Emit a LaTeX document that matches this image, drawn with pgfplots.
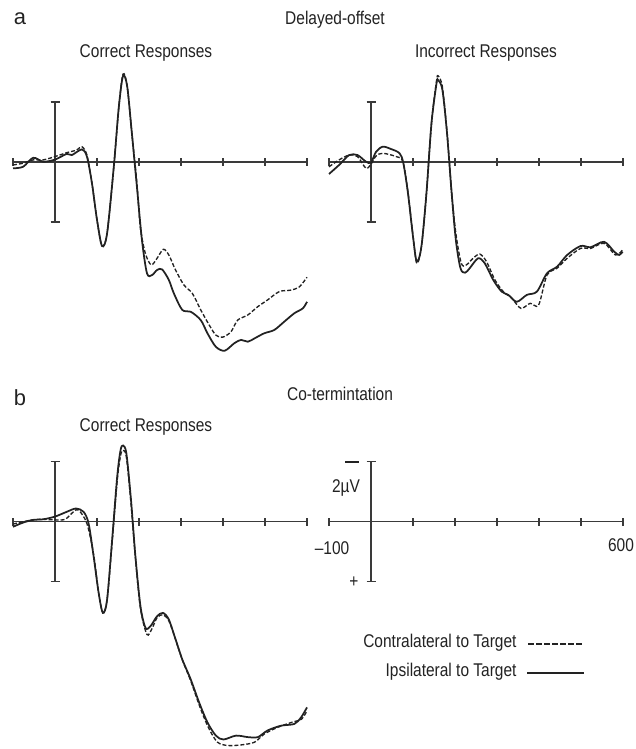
\documentclass[border=0pt]{standalone}
\usepackage{fontspec}
\setmainfont[FakeStretch=0.84]{Liberation Sans}
\newfontfamily\widefont{Liberation Sans}
\usepackage{pgfplots}
\pgfplotsset{compat=1.18}
\definecolor{ink}{HTML}{222222}
\definecolor{axc}{HTML}{3A3A3A}
\begin{document}
\begin{tikzpicture}[x=1bp,y=1bp,font=\fontsize{18.5}{21}\selectfont,text=ink]
\useasboundingbox (0,0) rectangle (636,749);
\pgfplotsset{erp/.style={anchor=origin, x=0.42bp, y=30bp, y dir=reverse,
  xmin=-100, xmax=600, ymin=-3.5, ymax=7.6, hide axis, clip=false},
  ipsi/.style={ink, line width=1.75bp, smooth, tension=0.5, no marks},
  contra/.style={ink, line width=1.35bp, smooth, tension=0.5, no marks, dash pattern=on 4bp off 2bp}}
\tikzset{axl/.style={draw=axc, line width=1.4bp}}
\newcommand\erpaxes{%
  \draw[axl] (axis cs:-100,0) -- (axis cs:600,0);
  \pgfplotsinvokeforeach{-100,0,100,200,300,400,500,600}{\draw[axl] (axis cs:##1,0) ++(0bp,-4bp) -- ++(0bp,8bp);}
  \draw[axl] (axis cs:0,-2) -- (axis cs:0,2);
  \draw[axl] (axis cs:0,-2) ++(-4.5bp,0bp) -- ++(9bp,0bp);
  \draw[axl] (axis cs:0,2) ++(-4.5bp,0bp) -- ++(9bp,0bp);
}
% ---- panel a, correct
\begin{axis}[erp, at={(55bp,587bp)}]
\erpaxes
\addplot[contra] coordinates {(-100,0.1) (-76,0.04) (-52,-0.07) (-28,-0.07) (0,-0.18) (28,-0.31) (52,-0.4) (64,-0.51) (76,-0.23) (88,0.71) (100,1.93) (112,2.8) (124,2.38) (140,0.16) (152,-1.84) (162,-2.93) (172,-2.51) (183,-0.96) (195,0.7) (203,2.16) (215,3.04) (229,3.43) (243,3.21) (258,2.91) (271,3.1) (287,3.6) (307,4.1) (327,4.38) (347,4.93) (367,5.43) (383,5.77) (399,5.84) (419,5.66) (435,5.27) (459,5.1) (483,4.82) (506,4.6) (534,4.32) (562,4.27) (582,4.16) (600,3.84)};
\addplot[ipsi] coordinates {(-100,0.21) (-76,0.16) (-52,-0.14) (-28,-0.01) (0,-0.08) (28,-0.27) (40,-0.23) (64,-0.42) (76,-0.18) (88,0.71) (100,1.93) (112,2.80) (124,2.38) (140,0.16) (152,-1.84) (162,-2.87) (172,-2.51) (183,-0.96) (195,0.82) (207,2.6) (219,3.71) (231,3.77) (243,3.6) (255,3.58) (271,3.93) (283,4.38) (303,4.93) (323,4.99) (347,5.27) (363,5.71) (383,6.16) (404,6.29) (427,6.04) (443,5.93) (459,5.99) (475,5.88) (498,5.71) (522,5.6) (546,5.32) (570,5.04) (590,4.88) (600,4.66)};
\end{axis}
% ---- panel a, incorrect
\begin{axis}[erp, at={(371bp,587bp)}]
\erpaxes
\addplot[contra] coordinates {(-100,0.16) (-76,-0.07) (-52,-0.23) (-32,-0.18) (-12,0.21) (0,0.07) (12,-0.2) (28,-0.29) (60,-0.18) (76,-0.01) (88,1.0) (100,2.45) (109,3.38) (120,2.82) (132,1.04) (144,-1.3) (156,-2.7) (160,-2.87) (170,-2.5) (181,-1.0) (192,1.0) (202,2.38) (215,3.38) (227,3.43) (243,3.21) (259,3.07) (275,3.32) (295,3.93) (315,4.32) (335,4.54) (357,4.88) (379,4.71) (399,4.77) (419,3.77) (443,3.54) (467,3.21) (499,2.88) (523,2.88) (555,2.71) (582,3.1) (599,2.93)};
\addplot[ipsi] coordinates {(-100,0.40) (-76,0.10) (-52,-0.23) (-32,-0.23) (-12,-0.01) (0,0.02) (12,-0.34) (28,-0.51) (48,-0.43) (68,-0.29) (77,0.04) (88,1.04) (100,2.49) (109,3.32) (120,2.82) (132,1.04) (144,-1.29) (156,-2.62) (160,-2.73) (170,-2.4) (181,-0.96) (192,1.04) (202,2.6) (213,3.54) (224,3.69) (235,3.54) (255,3.21) (271,3.38) (291,3.93) (311,4.32) (327,4.43) (347,4.66) (371,4.43) (395,4.32) (419,3.71) (443,3.49) (467,3.1) (499,2.8) (523,2.84) (555,2.66) (579,2.99) (591,3.1) (599,2.99)};
\end{axis}
% ---- panel b, correct
\begin{axis}[erp, at={(55bp,227.3bp)}]
\erpaxes
\addplot[contra] coordinates {(-100,0.08) (-76,0) (-52,-0.06) (-28,-0.08) (0,-0.06) (24,-0.08) (44,-0.33) (56,-0.39) (76,0.06) (92,1.1) (104,2.38) (114,3.04) (124,2.6) (136,0.7) (148,-1.35) (156,-2.2) (162,-2.38) (170,-2.15) (181,-0.6) (191.5,1.2) (203.5,2.9) (219,3.76) (231,3.56) (243,3.2) (257,3.1) (271,3.3) (287,3.92) (303,4.6) (323,5.3) (347,6.25) (367,6.91) (387,7.35) (411,7.46) (443,7.44) (475,7.35) (499,7.07) (531,6.85) (563,6.69) (587,6.58) (600,6.3)};
\addplot[ipsi] coordinates {(-100,0.17) (-76,0.03) (-52,-0.06) (-28,-0.08) (0,-0.17) (28,-0.33) (50,-0.44) (68,-0.33) (80,0.06) (92,1.16) (104,2.38) (114,3.04) (124,2.6) (136,0.61) (148,-1.49) (156,-2.38) (162,-2.54) (170,-2.27) (181,-0.72) (191.5,1.16) (203.5,2.82) (215.5,3.54) (227.5,3.48) (243,3.15) (257,3.04) (271,3.26) (287,3.92) (303,4.59) (323,5.25) (343,6.02) (363,6.69) (383,7.13) (401,7.26) (431,7.13) (459,7.18) (483,7.18) (506,6.96) (538,6.8) (570,6.74) (586,6.52) (600,6.19)};
\end{axis}
% ---- scale panel
\begin{axis}[erp, at={(371bp,227.3bp)}]
\erpaxes
\end{axis}
% ---- texts
\node[font=\widefont\fontsize{22}{24}\selectfont] at (20,730) {a};
\node at (335,729) {Delayed-offset};
\node at (146,696) {Correct Responses};
\node at (486,696) {Incorrect Responses};
\node[font=\widefont\fontsize{22}{24}\selectfont] at (20,351) {b};
\node at (340,355) {Co-termintation};
\node at (146,322) {Correct Responses};
\draw[ink, line width=2.2bp] (345,287.3) -- (359,287.3);
\node at (346,261) {2µV};
\node at (332,201) {–100};
\node at (621,204) {600};
\node at (354,167) {+};
\node[anchor=east] at (520,106) {Contralateral to Target};
\draw[ink, line width=1.8bp, dash pattern=on 5.5bp off 2.5bp] (528,105) -- (584,105);
\node[anchor=east] at (520,77.3) {Ipsilateral to Target};
\draw[ink, line width=1.9bp] (527,76.3) -- (584,76.3);
\end{tikzpicture}
\end{document}
